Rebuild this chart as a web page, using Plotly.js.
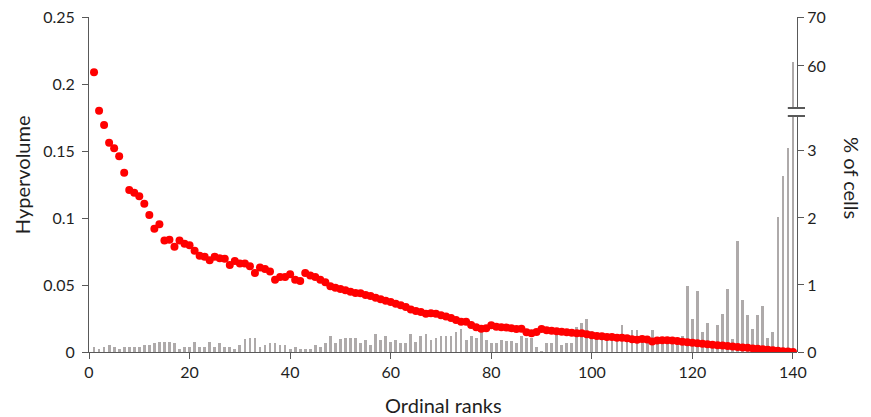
<!DOCTYPE html>
<html>
<head>
<meta charset="utf-8">
<script src="https://cdn.plot.ly/plotly-3.0.1.min.js"></script>
<style>html,body{margin:0;padding:0;background:#fff;}#chart{width:871px;height:417px;}</style>
</head>
<body>
<div id="chart"></div>
<script>
// Ordinal ranks 1..140
const ranks = Array.from({length: 140}, (_, i) => i + 1);

// Hypervolume per rank (left axis)
const hypervolume = [
  0.2087, 0.180, 0.1694, 0.1562, 0.152, 0.146, 0.1338, 0.1209, 0.1189, 0.1162,
  0.1107, 0.1022, 0.092, 0.0953, 0.0833, 0.0838, 0.0786, 0.0833, 0.0808, 0.0796,
  0.0756, 0.0719, 0.0711, 0.0684, 0.0711, 0.0700, 0.0695, 0.065, 0.068, 0.066,
  0.066, 0.064, 0.059, 0.063, 0.062, 0.060, 0.054, 0.056, 0.056, 0.058,
  0.054, 0.053, 0.059, 0.057, 0.056, 0.054, 0.052, 0.049, 0.048, 0.047,
  0.046, 0.045, 0.044, 0.0438, 0.0425, 0.0418, 0.0405, 0.0393, 0.0383, 0.0373,
  0.036, 0.0348, 0.0336, 0.0318, 0.0306, 0.0299, 0.0286, 0.0289, 0.0286, 0.0274,
  0.0264, 0.0254, 0.0239, 0.0226, 0.0226, 0.0201, 0.0184, 0.0174, 0.0177, 0.0199,
  0.0189, 0.0184, 0.0182, 0.0177, 0.0172, 0.0174, 0.0147, 0.014, 0.0149, 0.0172,
  0.0162, 0.0159, 0.0154, 0.0152, 0.0147, 0.0144, 0.014, 0.014, 0.0132, 0.0125,
  0.0119, 0.0117, 0.0112, 0.0112, 0.0107, 0.0107, 0.0102, 0.0095, 0.0092, 0.0097,
  0.0094, 0.0078, 0.0085, 0.0088, 0.0088, 0.0086, 0.0082, 0.0077, 0.0072, 0.0069,
  0.0065, 0.0061, 0.0058, 0.0055, 0.0051, 0.0048, 0.0045, 0.0041, 0.0038, 0.0034,
  0.0031, 0.0027, 0.0024, 0.0020, 0.0017, 0.0013, 0.0010, 0.0006, 0.0003, 0.0000
];

// % of cells per rank (right axis, broken)
const pctCells = [
  0.08, 0.04, 0.07, 0.10, 0.07, 0.04, 0.07, 0.07, 0.07, 0.07,
  0.10, 0.10, 0.13, 0.155, 0.155, 0.155, 0.13, 0.04, 0.07, 0.07,
  0.155, 0.07, 0.07, 0.155, 0.07, 0.13, 0.07, 0.07, 0.04, 0.10,
  0.19, 0.21, 0.21, 0.07, 0.10, 0.13, 0.13, 0.10, 0.10, 0.05,
  0.075, 0.05, 0.05, 0.05, 0.10, 0.075, 0.13, 0.24, 0.13, 0.19,
  0.21, 0.21, 0.21, 0.13, 0.18, 0.10, 0.27, 0.18, 0.24, 0.15,
  0.18, 0.13, 0.13, 0.27, 0.15, 0.24, 0.27, 0.18, 0.21, 0.24,
  0.24, 0.24, 0.30, 0.35, 0.18, 0.24, 0.21, 0.33, 0.18, 0.13,
  0.13, 0.18, 0.16, 0.16, 0.13, 0.24, 0.21, 0.21, 0.075, 0.02,
  0.13, 0.13, 0.28, 0.10, 0.13, 0.13, 0.37, 0.43, 0.49, 0.32,
  0.22, 0.20, 0.22, 0.20, 0.22, 0.40, 0.22, 0.33, 0.33, 0.23,
  0.20, 0.33, 0.20, 0.20, 0.20, 0.20, 0.20, 0.24, 0.99, 0.49,
  0.91, 0.30, 0.43, 0.15, 0.41, 0.57, 0.94, 0.19, 1.66, 0.77,
  0.55, 0.35, 0.55, 0.69, 0.21, 0.30, 2.02, 2.63, 3.04, 60.7
];

const xTicks = [0, 20, 40, 60, 80, 100, 120, 140];
const leftTicks = [0, 0.05, 0.1, 0.15, 0.2, 0.25];
const rightLowTicks = [0, 1, 2, 3];
const rightHighTicks = [60, 70];

const axisColor = '#595959';
const textColor = '#1f1f1f';
const font = {family: 'Lato, "Open Sans", sans-serif', size: 16, color: textColor};
const barColor = '#aeaaaa';

const traces = [
  {type: 'bar', x: ranks, y: pctCells, xaxis: 'x', yaxis: 'y',
   marker: {color: barColor}, width: 0.55, hoverinfo: 'skip', showlegend: false},
  {type: 'bar', x: ranks, y: pctCells, xaxis: 'x', yaxis: 'y2',
   marker: {color: barColor}, width: 0.55, hoverinfo: 'skip', showlegend: false},
  {type: 'scatter', mode: 'markers', x: ranks, y: hypervolume, xaxis: 'x', yaxis: 'y3',
   marker: {color: '#ff0000', size: 8}, showlegend: false}
];

const layout = {
  width: 871, height: 417,
  margin: {l: 89, r: 74, t: 17, b: 65},
  paper_bgcolor: '#ffffff', plot_bgcolor: 'rgba(0,0,0,0)',
  font: font,
  showlegend: false,
  bargap: 0,
  xaxis: {
    range: [0, 140.8], tickvals: xTicks, ticks: 'outside', ticklen: 6, tickcolor: axisColor,
    showline: true, linecolor: axisColor, linewidth: 1, showgrid: false, zeroline: false,
    anchor: 'y3', tickfont: font
  },
  yaxis: {
    domain: [0, 0.7045], range: [0, 3.52], side: 'right', anchor: 'x',
    tickvals: rightLowTicks, ticks: 'outside', ticklen: 6, tickcolor: axisColor,
    showline: true, linecolor: axisColor, linewidth: 1, showgrid: false, zeroline: false,
    tickfont: font
  },
  yaxis2: {
    domain: [0.7284, 1], range: [51.4, 70], side: 'right', anchor: 'x',
    tickvals: rightHighTicks, ticks: 'outside', ticklen: 6, tickcolor: axisColor,
    showline: true, linecolor: axisColor, linewidth: 1, showgrid: false, zeroline: false,
    tickfont: font
  },
  yaxis3: {
    domain: [0, 1], range: [0, 0.25], side: 'left', anchor: 'x',
    tickvals: leftTicks, ticks: 'outside', ticklen: 6, tickcolor: axisColor,
    showline: true, linecolor: axisColor, linewidth: 1, showgrid: false, zeroline: false,
    tickfont: font, ticklabelstandoff: 4
  },
  shapes: [
    {type: 'line', xref: 'paper', yref: 'paper', x0: 0.987, x1: 1.0113, y0: 0.7284, y1: 0.7284,
     line: {color: axisColor, width: 2}},
    {type: 'line', xref: 'paper', yref: 'paper', x0: 0.987, x1: 1.0113, y0: 0.7045, y1: 0.7045,
     line: {color: axisColor, width: 2}}
  ],
  annotations: [
    {text: 'Hypervolume', xref: 'paper', yref: 'paper', x: -0.0946, y: 0.528, textangle: -90,
     showarrow: false, xanchor: 'center', yanchor: 'middle', font: {family: font.family, size: 20, color: textColor}},
    {text: '% of cells', xref: 'paper', yref: 'paper', x: 1.0777, y: 0.519, textangle: 90,
     showarrow: false, xanchor: 'center', yanchor: 'middle', font: {family: font.family, size: 20, color: textColor}},
    {text: 'Ordinal ranks', xref: 'paper', yref: 'paper', x: 0.5, y: -0.158,
     showarrow: false, xanchor: 'center', yanchor: 'middle', font: {family: font.family, size: 20, color: textColor}}
  ]
};

Plotly.newPlot('chart', traces, layout, {staticPlot: true, displayModeBar: false});
</script>
</body>
</html>
